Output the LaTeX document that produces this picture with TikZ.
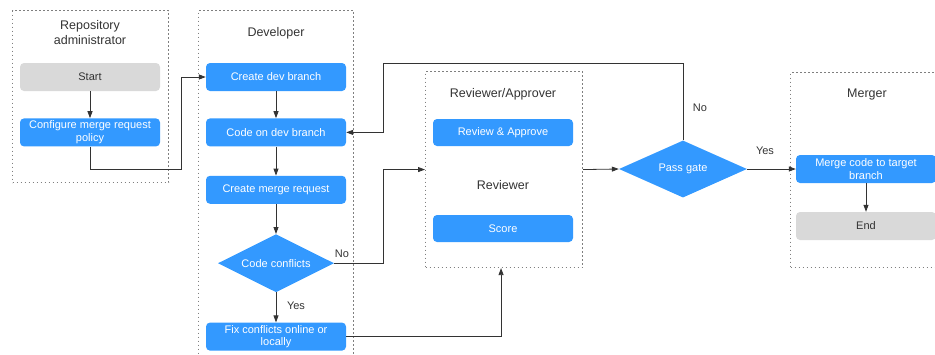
\documentclass[tikz,border=0pt]{standalone}
\usepackage{fontspec}
\setmainfont{Liberation Sans}
\usetikzlibrary{positioning,arrows.meta,shapes.geometric}
\definecolor{stepblue}{HTML}{3399FF}
\definecolor{termgray}{HTML}{D9D9D9}
\definecolor{lanegray}{HTML}{7F7F7F}
\definecolor{ink}{HTML}{333333}

\begin{document}
\begin{tikzpicture}[x=1pt,y=-1pt,
box/.style={rounded corners=4pt, align=center, minimum width=140pt, minimum height=28pt, inner sep=1pt,
  fill=stepblue, text=white, font=\fontsize{11}{12.8}\selectfont},
term/.style={box, fill=termgray, text=ink},
gate/.style={diamond, aspect=2, fill=stepblue, text=white, inner sep=0pt, font=\fontsize{11}{12.8}\selectfont},
lane/.style={draw=lanegray, dash pattern=on 1.1pt off 2.9pt, line width=1.1pt, anchor=north west, inner sep=0pt},
title/.style={text=ink, align=center, font=\fontsize{12.5}{15}\selectfont},
lbl/.style={text=ink, inner sep=1pt, font=\fontsize{11}{13}\selectfont},
arr/.style={-{Triangle[length=7pt,width=5pt]}, draw=ink, line width=0.8pt}
]
\useasboundingbox (0,0) rectangle (935,354);
\clip (0,0) rectangle (935,354);

% swimlanes
\node[lane, minimum width=156pt, minimum height=172pt] (adminlane) at (12,10) {};
\node[lane, minimum width=155pt, minimum height=360pt] (devlane) at (198,10) {};
\node[lane, minimum width=157pt, minimum height=196pt] (revlane) at (425,71) {};
\node[lane, minimum width=160pt, minimum height=195pt] (mergelane) at (790,72) {};

\node[title] (admintitle) at (90,33) {Repository\\administrator};
\node[title] (devtitle) at (276,33) {Developer};
\node[title] (revtitle) at (503,94) {Reviewer/Approver};
\node[title] (scoretitle) at (503,185) {Reviewer};
\node[title] (mergetitle) at (867,94) {Merger};

% steps
\node[term] (start) at (90,77) {Start};
\node[box, below=27pt of start] (conf) {Configure merge request\\policy};

\node[box] (createbr) at (276,77) {Create dev branch};
\node[box, below=27pt of createbr] (codebr) {Code on dev branch};
\node[box, below=29pt of codebr] (mreq) {Create merge request};
\node[gate, minimum width=116pt, minimum height=58pt, below=30pt of mreq] (conflicts) {Code conflicts};
\node[box, below=30pt of conflicts] (fix) {Fix conflicts online or\\locally};

\node[box, minimum height=27pt] (review) at (503,132.5) {Review \& Approve};
\node[box, minimum height=27pt] (score) at (503,228.5) {Score};

\node[gate, minimum width=128pt, minimum height=57pt] (passgate) at (683,169) {Pass gate};

\node[box] (merge) at (866,169) {Merge code to target\\branch};
\node[term] (finish) at (866,226) {End};

% connectors
\draw[arr] (start) -- (conf);
\draw[arr] (conf.south) -- ++(0,23) -| ([xshift=-24pt]createbr.west) -- (createbr.west);
\draw[arr] (createbr) -- (codebr);
\draw[arr] (codebr) -- (mreq);
\draw[arr] (mreq) -- (conflicts);
\draw[arr] (conflicts) -- (fix);
\draw[arr] (conflicts.east) -| ([xshift=-42pt]revlane.west) -- (revlane.west);
\draw[arr] (fix.east) -| ([xshift=-3pt]revlane.south);
\draw[arr] (revlane.east) -- (passgate.west);
\draw[arr] (passgate.north) -- ++(0,-77) -| ([xshift=37pt]codebr.east) -- (codebr.east);
\draw[arr] (passgate.east) -- (merge.west);
\draw[arr] (merge) -- (finish);

\node[lbl] (nolbl1) at (342,254) {No};
\node[lbl] (yeslbl1) at (296,306) {Yes};
\node[lbl] (nolbl2) at (700,108) {No};
\node[lbl] (yeslbl2) at (765,151) {Yes};
\end{tikzpicture}
\end{document}
